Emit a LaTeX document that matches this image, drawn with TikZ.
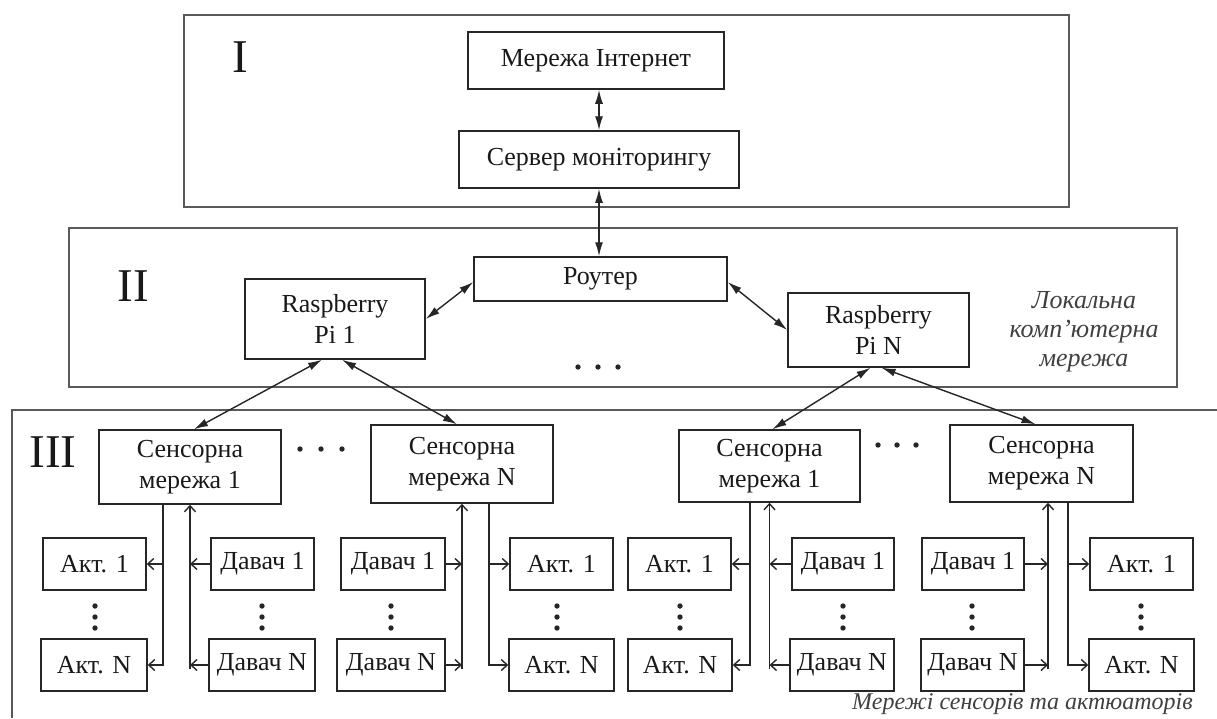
\documentclass[tikz,border=0pt]{standalone}
\usepackage{fontspec}
\setmainfont{Liberation Serif}
\usetikzlibrary{arrows.meta,calc}
\begin{document}
\begin{tikzpicture}[x=1pt,y=-1pt,
  box/.style={draw=black!85, line width=1.5pt, inner sep=0pt, align=center,
    font=\fontsize{26}{31}\selectfont, text=black!90},
  frame/.style={draw=black!65, line width=1.9pt},
  roman/.style={font=\fontsize{47}{47}\selectfont, text=black!90},
  note/.style={font=\fontsize{26}{29}\selectfont\itshape, text=black!75, align=center},
  con/.style={line width=1.4pt, draw=black!85},
  bi/.style={con, {Latex[length=14pt,width=8pt]}-{Latex[length=14pt,width=8pt]}},
  op/.style={con, -{Straight Barb[length=6pt,width=11pt]}},
  dot/.style={fill=black!85}
]
\useasboundingbox (0,0) rectangle (1217,718);
% frames
\draw[frame] (184,15) rectangle (1069,207);
\draw[frame] (69,228) rectangle (1177,387);
\draw[frame] (1217,410) -- (12,410) -- (12,718);
% roman numerals
\node[roman] (rI) at (240,57) {I};
\node[roman] (rII) at (133,286) {II};
\node[roman] (rIII) at (53,452) {III};
% level I
\node[box, minimum width=256pt, minimum height=57pt] (net) at (596,60.5) {Мережа Інтернет};
\node[box, minimum width=280pt, minimum height=57pt] (srv) at (599,159.5) {Сервер моніторингу};
% level II
\node[box, minimum width=253pt, minimum height=44pt] (router) at (600.5,279) {Роутер};
\node[box, minimum width=180pt, minimum height=80pt] (pi1) at (335,319) {Raspberry\\Pi 1};
\node[box, minimum width=181pt, minimum height=74pt] (piN) at (878.5,330) {Raspberry\\Pi N};
\node[note] (lan) at (1084,332) {Локальна\\комп’ютерна\\мережа};
% level III
\node[box, minimum width=182pt, minimum height=74pt] (sm1) at (190,467) {Сенсорна\\мережа 1};
\node[box, minimum width=182pt, minimum height=78pt] (sm2) at (462,464) {Сенсорна\\мережа N};
\node[box, minimum width=181pt, minimum height=72pt] (sm3) at (769.5,466) {Сенсорна\\мережа 1};
\node[box, minimum width=183pt, minimum height=77pt] (sm4) at (1041.5,463.5) {Сенсорна\\мережа N};
% bottom rows
\node[box, minimum width=103pt, minimum height=52pt] (a1a) at (94.5,564) {Акт. 1};
\node[box, minimum width=106pt, minimum height=52pt] (a1b) at (94,665) {Акт. N};
\node[box, minimum width=103pt, minimum height=52pt] (d1a) at (262.5,564) {Давач 1};
\node[box, minimum width=106pt, minimum height=52pt] (d1b) at (262,665) {Давач N};
\node[box, minimum width=104pt, minimum height=52pt] (d2a) at (393,564) {Давач 1};
\node[box, minimum width=108pt, minimum height=52pt] (d2b) at (391,665) {Давач N};
\node[box, minimum width=103pt, minimum height=52pt] (a2a) at (561.5,564) {Акт. 1};
\node[box, minimum width=105pt, minimum height=52pt] (a2b) at (561.5,665) {Акт. N};
\node[box, minimum width=103pt, minimum height=52pt] (a3a) at (679.5,564) {Акт. 1};
\node[box, minimum width=104pt, minimum height=52pt] (a3b) at (680,665) {Акт. N};
\node[box, minimum width=102pt, minimum height=52pt] (d3a) at (843,564) {Давач 1};
\node[box, minimum width=104pt, minimum height=52pt] (d3b) at (842,665) {Давач N};
\node[box, minimum width=102pt, minimum height=52pt] (d4a) at (973,564) {Давач 1};
\node[box, minimum width=103pt, minimum height=52pt] (d4b) at (972.5,665) {Давач N};
\node[box, minimum width=103pt, minimum height=52pt] (a4a) at (1141.5,564) {Акт. 1};
\node[box, minimum width=105pt, minimum height=52pt] (a4b) at (1141.5,665) {Акт. N};
\node[note, font=\fontsize{24}{26}\selectfont\itshape, anchor=east, inner sep=0pt] (wsan) at (1193,704) {Мережі сенсорів та актюаторів};
% bus coordinates under the sensor-network boxes
\coordinate (dn1) at ([xshift=-27pt]sm1.south);
\coordinate (up1) at (sm1.south);
\coordinate (up2) at (sm2.south);
\coordinate (dn2) at ([xshift=27pt]sm2.south);
\coordinate (dn3) at ([xshift=-19.5pt]sm3.south);
\coordinate (up3) at (sm3.south);
\coordinate (up4) at ([xshift=6.5pt]sm4.south);
\coordinate (dn4) at ([xshift=26.5pt]sm4.south);
% connectors, upper part
\draw[bi] (srv.north |- net.south) -- (srv.north);
\draw[bi] (srv.south) -- (srv.south |- router.north);
\draw[bi] ([yshift=-3pt]router.west) -- (pi1.east);
\draw[bi] ([yshift=-3pt]router.east) -- (piN.west);
\draw[bi] ([xshift=-13pt]pi1.south) -- ([xshift=4pt]sm1.north);
\draw[bi] ([xshift=7pt]pi1.south) -- ([xshift=-5pt]sm2.north);
\draw[bi] ([xshift=-8pt]piN.south) -- ([xshift=3pt]sm3.north);
\draw[bi] ([xshift=3pt]piN.south) -- ([xshift=-6pt]sm4.north);
% group 1
\draw[op] (dn1) |- (a1a.east);
\draw[op] (dn1) |- (a1b.east);
\draw[op] (d1a.west) -- (d1a.west -| up1);
\draw[op] (d1b.west) -- (d1b.west -| up1);
\draw[op] ([yshift=-4pt]d1b.west -| up1) -- (up1);
% group 2
\draw[op] (dn2) |- (a2a.west);
\draw[op] (dn2) |- (a2b.west);
\draw[op] (d2a.east) -- (d2a.east -| up2);
\draw[op] (d2b.east) -- (d2b.east -| up2);
\draw[op] ([yshift=-4pt]d2b.east -| up2) -- (up2);
% group 3
\draw[op] (dn3) |- (a3a.east);
\draw[op] (dn3) |- (a3b.east);
\draw[op] (d3a.west) -- (d3a.west -| up3);
\draw[op] (d3b.west) -- (d3b.west -| up3);
\draw[op] ([yshift=-4pt]d3b.west -| up3) -- (up3);
% group 4
\draw[op] (dn4) |- (a4a.west);
\draw[op] (dn4) |- (a4b.west);
\draw[op] (d4a.east) -- (d4a.east -| up4);
\draw[op] (d4b.east) -- (d4b.east -| up4);
\draw[op] ([yshift=-4pt]d4b.east -| up4) -- (up4);
% horizontal ellipses
\foreach \x/\y in {578/367,598/367,618/367, 300/449,321/449,342/449, 878/445,897/445,916/445}
  \fill[dot] (\x,\y) circle (2.7pt);
% vertical ellipses
\foreach \x in {95,262,391,557,680,843,972,1141}
  \foreach \y in {606,617,628}
    \fill[dot] (\x,\y) circle (2.7pt);
\end{tikzpicture}
\end{document}
